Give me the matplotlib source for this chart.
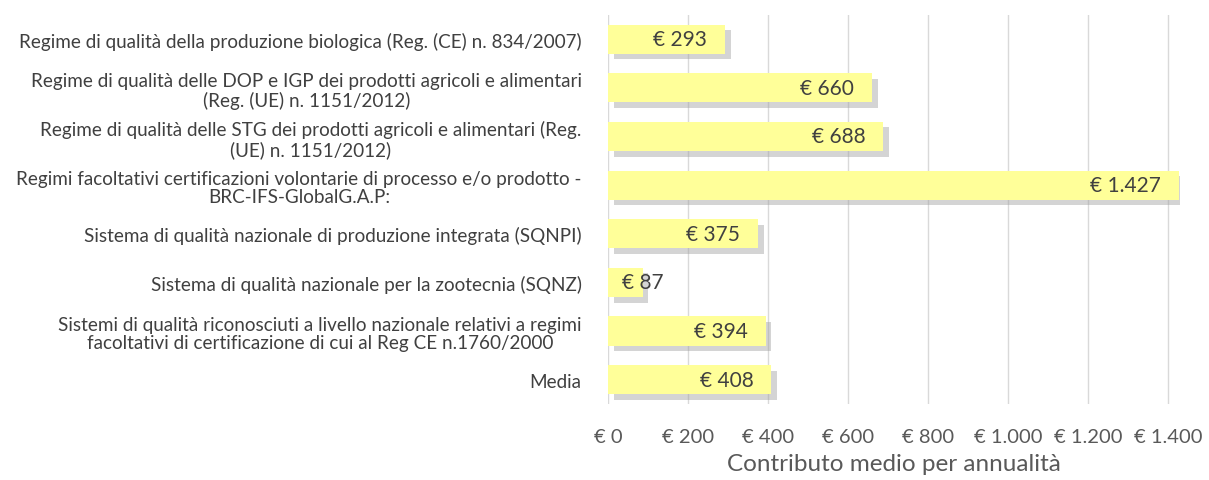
import matplotlib.pyplot as plt
import matplotlib.patheffects as pe
from matplotlib.ticker import FuncFormatter

# categories (top to bottom) and average contribution per year
categorie = [
    'Regime di qualità della produzione biologica (Reg. (CE) n. 834/2007)',
    'Regime di qualità delle DOP e IGP dei prodotti agricoli e alimentari\n(Reg. (UE) n. 1151/2012)',
    'Regime di qualità delle STG dei prodotti agricoli e alimentari (Reg.\n(UE) n. 1151/2012)',
    'Regimi facoltativi certificazioni volontarie di processo e/o prodotto -\nBRC-IFS-GlobalG.A.P:',
    'Sistema di qualità nazionale di produzione integrata (SQNPI)',
    'Sistema di qualità nazionale per la zootecnia (SQNZ)',
    'Sistemi di qualità riconosciuti a livello nazionale relativi a regimi\nfacoltativi di certificazione di cui al Reg CE n.1760/2000',
    'Media',
]
contributo = [293, 660, 688, 1427, 375, 87, 394, 408]
xticks = [0, 200, 400, 600, 800, 1000, 1200, 1400]

def euro(v):
    return '€ ' + f'{int(v):,}'.replace(',', '.')

font = ['Lato', 'DejaVu Sans']
grigio = '#404040'

fig = plt.figure(figsize=(12.09, 4.81), dpi=100)
ax = fig.add_axes([0.503, 0.158, 0.473, 0.809])

y = list(range(len(categorie)))
bars = ax.barh(y, contributo, height=0.6, color='#FFFF99', zorder=3)
for b in bars:
    b.set_path_effects([pe.SimplePatchShadow(offset=(4, -4), shadow_rgbFace='#a0a0a0', alpha=0.45), pe.Normal()])

for yi, v in zip(y, contributo):
    if v < 150:
        ax.annotate(euro(v), (0, yi), xytext=(14, 0), textcoords='offset pixels',
                    ha='left', va='center', fontsize=15, color=grigio, family=font, zorder=4)
    else:
        ax.annotate(euro(v), (v, yi), xytext=(-18, 0), textcoords='offset pixels',
                    ha='right', va='center', fontsize=15, color=grigio, family=font, zorder=4)

ax.set_ylim(len(categorie) - 0.5, -0.5)
ax.set_xlim(0, 1430)
ax.set_xticks(xticks)
ax.xaxis.set_major_formatter(FuncFormatter(lambda v, p: euro(v)))
ax.set_yticks(y)
ax.set_yticklabels(categorie, family=font, fontsize=13.6, color=grigio, linespacing=1.12)
for t in ax.get_yticklabels():
    t.set_multialignment('center')
ax.tick_params(axis='y', length=0, pad=19)
ax.tick_params(axis='x', length=0, pad=17, labelsize=14.5, labelcolor='#595959')
for t in ax.get_xticklabels():
    t.set_family(font)
ax.grid(axis='x', color='#d9d9d9', lw=1, zorder=0)
for s in ax.spines.values():
    s.set_visible(False)
ax.set_xlabel('Contributo medio per annualità', family=font, fontsize=17.5, color='#595959', labelpad=6)

fig.savefig('out.png', dpi=100)
